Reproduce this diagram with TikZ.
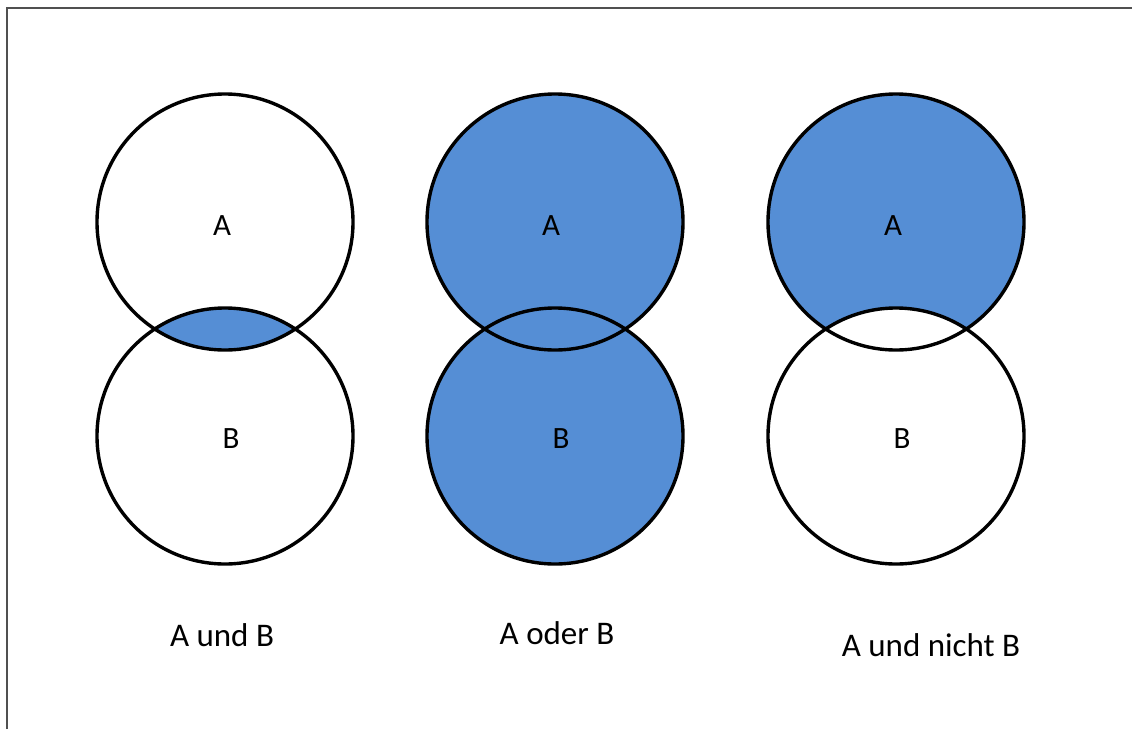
\documentclass[tikz,border=0pt]{standalone}
\usepackage{fontspec}
\setmainfont{Carlito}
\usetikzlibrary{positioning}

\definecolor{setblue}{RGB}{85,142,213}
\definecolor{framegray}{RGB}{80,80,80}

\tikzset{
  setcircle/.style={circle, draw, line width=3.4pt, minimum size=256pt, inner sep=0pt},
  setlabel/.style={font=\fontsize{31}{36}\selectfont},
  caption/.style={font=\fontsize{33}{39}\selectfont},
}

\begin{document}
\begin{tikzpicture}[x=1pt, y=-1pt]
  \useasboundingbox (0,0) rectangle (1132,729);

  % frame
  \coordinate (topright) at (1132,7.5);
  \coordinate (corner) at (6.5,7.5);
  \coordinate (bottomleft) at (6.5,729);
  \draw[framegray, line width=2pt] (bottomleft) -- (corner) -- (topright);

  % circle centres
  \coordinate (ca1) at (225,222);
  \coordinate (cb1) at (225,436);
  \coordinate (ca2) at (555,222);
  \coordinate (cb2) at (555,436);
  \coordinate (ca3) at (896,222);
  \coordinate (cb3) at (896,436);

  % fills
  \begin{scope}
    \clip (ca1) circle (128pt);
    \fill[setblue] (cb1) circle (128pt);
  \end{scope}
  \fill[setblue] (ca2) circle (128pt);
  \fill[setblue] (cb2) circle (128pt);
  \fill[setblue] (ca3) circle (128pt);
  \fill[white] (cb3) circle (128pt);

  % circles
  \node[setcircle] (a1) at (ca1) {};
  \node[setcircle] (b1) at (cb1) {};
  \node[setcircle] (a2) at (ca2) {};
  \node[setcircle] (b2) at (cb2) {};
  \node[setcircle] (a3) at (ca3) {};
  \node[setcircle] (b3) at (cb3) {};

  % letters
  \node[setlabel] (la1) at (222,226) {A};
  \node[setlabel] (lb1) at (231,439) {B};
  \node[setlabel] (la2) at (551,226) {A};
  \node[setlabel] (lb2) at (561,439) {B};
  \node[setlabel] (la3) at (893,226) {A};
  \node[setlabel] (lb3) at (902,439) {B};

  % captions
  \node[caption] (und) at (222,635) {A und B};
  \node[caption] (oder) at (557,633) {A oder B};
  \node[caption] (undnicht) at (931,645) {A und nicht B};
\end{tikzpicture}
\end{document}
